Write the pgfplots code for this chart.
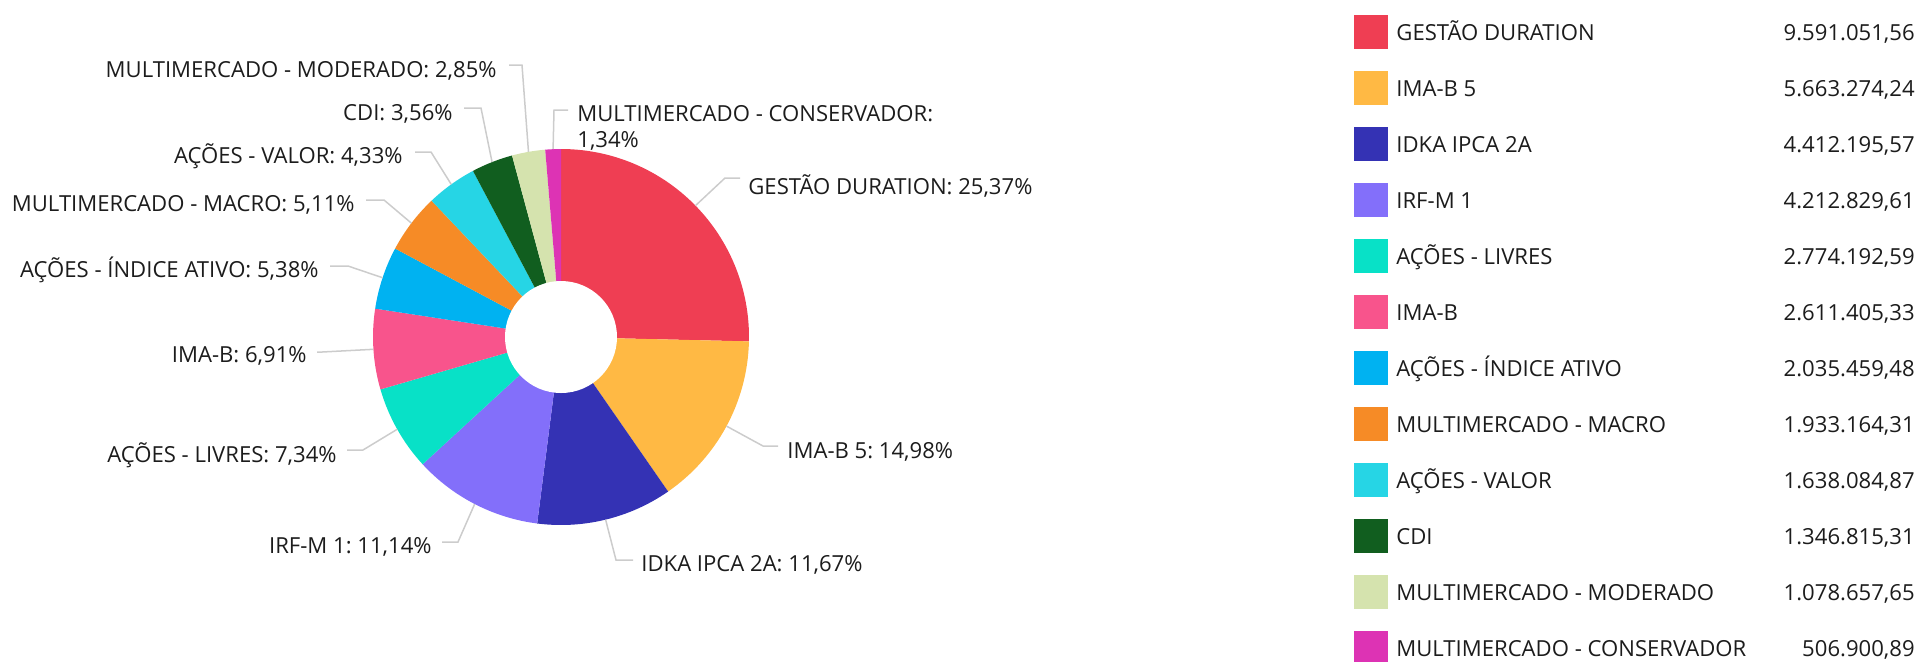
\documentclass[border=0pt]{standalone}
\usepackage{fontspec}
\setmainfont{Open Sans}
\usepackage{pgfplots}
\pgfplotsset{compat=1.18}
\usepackage{pgfplotstable}
\pgfkeys{/pgf/number format/assume math mode=true}

\definecolor{sc0}{HTML}{EF3E53}
\definecolor{sc1}{HTML}{FFB944}
\definecolor{sc2}{HTML}{3432B4}
\definecolor{sc3}{HTML}{836FFA}
\definecolor{sc4}{HTML}{08E1C7}
\definecolor{sc5}{HTML}{F8548C}
\definecolor{sc6}{HTML}{00B2F1}
\definecolor{sc7}{HTML}{F68B26}
\definecolor{sc8}{HTML}{26D5E5}
\definecolor{sc9}{HTML}{115E1F}
\definecolor{sc10}{HTML}{D5E3AE}
\definecolor{sc11}{HTML}{DD33B4}
\definecolor{txt}{HTML}{1C1C1C}
\definecolor{leadc}{HTML}{CCCCCC}

% value; label placement (pixel coords of the 1922x661 picture)
% lx: text edge, ty: text centre, ln: leader y, bx: leader break x, hx: leader end x
\pgfplotstableread[col sep=semicolon,row sep=\\]{
name;value;side;lx;ty;ln;bx;hx;wrap\\
GESTÃO DURATION;9591051.56;1;748;186;178;725;740;0\\
IMA-B 5;5663274.24;1;787;450;446;763;778;0\\
IDKA IPCA 2A;4412195.57;1;641;563;560;616;633;0\\
IRF-M 1;4212829.61;0;432;545;542;458;442;0\\
AÇÕES - LIVRES;2774192.59;0;337;454;450;363;347;0\\
IMA-B;2611405.33;0;307;354.5;352;322;317;0\\
AÇÕES - ÍNDICE ATIVO;2035459.48;0;319;269.5;266;348;330;0\\
MULTIMERCADO - MACRO;1933164.31;0;355;203.5;200;384;366;0\\
AÇÕES - VALOR;1638084.87;0;403;155.5;152;431;415;0\\
CDI;1346815.31;0;453;112;108;481;464;0\\
MULTIMERCADO - MODERADO;1078657.65;0;497;69;65;522;509;0\\
MULTIMERCADO - CONSERVADOR;506900.89;1;577;113;110;554;568;1\\
}\slices

\gdef\total{0}%
\pgfplotsforeachungrouped \i in {0,...,11}{%
  \pgfplotstablegetelem{\i}{value}\of\slices
  \xdef\total{\fpeval{\total+\pgfplotsretval}}%
}%
\gdef\cum{0}%
\pgfplotsforeachungrouped \i in {0,...,11}{%
  \pgfplotstablegetelem{\i}{value}\of\slices \let\myv\pgfplotsretval
  \expandafter\xdef\csname vl\i\endcsname{\myv}%
  \expandafter\xdef\csname aS\i\endcsname{\fpeval{round(90-360*\cum/\total,4)}}%
  \xdef\cum{\fpeval{\cum+\myv}}%
  \expandafter\xdef\csname aE\i\endcsname{\fpeval{round(90-360*\cum/\total,4)}}%
  \expandafter\xdef\csname aM\i\endcsname{\fpeval{round(90-360*(\cum-\myv/2)/\total,4)}}%
  \expandafter\xdef\csname pc\i\endcsname{\fpeval{round(100*\myv/\total,2)}}%
  \pgfplotstablegetelem{\i}{name}\of\slices
  \expandafter\global\expandafter\let\csname nm\i\endcsname\pgfplotsretval
  \pgfplotstablegetelem{\i}{side}\of\slices \expandafter\xdef\csname sd\i\endcsname{\pgfplotsretval}%
  \pgfplotstablegetelem{\i}{wrap}\of\slices \expandafter\xdef\csname wr\i\endcsname{\pgfplotsretval}%
  \pgfplotstablegetelem{\i}{bx}\of\slices \expandafter\xdef\csname bx\i\endcsname{\pgfplotsretval}%
  \pgfplotstablegetelem{\i}{hx}\of\slices \expandafter\xdef\csname hx\i\endcsname{\pgfplotsretval}%
  \pgfplotstablegetelem{\i}{ln}\of\slices \expandafter\xdef\csname ly\i\endcsname{\pgfplotsretval}%
  \pgfplotstablegetelem{\i}{lx}\of\slices \expandafter\xdef\csname tx\i\endcsname{\pgfplotsretval}%
  \pgfplotstablegetelem{\i}{ty}\of\slices \let\myty\pgfplotsretval
  \expandafter\xdef\csname ty\i\endcsname{\fpeval{\myty+8}}%
  \expandafter\xdef\csname tyy\i\endcsname{\fpeval{\myty+34.5}}%
  \expandafter\xdef\csname rt\i\endcsname{\fpeval{15+56*\i}}%
  \expandafter\xdef\csname rb\i\endcsname{\fpeval{49+56*\i}}%
  \expandafter\xdef\csname rl\i\endcsname{\fpeval{40+56*\i}}%
}%

\newcommand\lblfont{\fontsize{11.05}{13}\selectfont}
\newcommand\pctfmt[1]{\pgfmathprintnumber[fixed,fixed zerofill,precision=2,use comma]{#1}}
\newcommand\valfmt[1]{\pgfmathprintnumber[fixed,fixed zerofill,precision=2,use comma,1000 sep={.}]{#1}}

\begin{document}
\frenchspacing
\begin{tikzpicture}
\begin{axis}[name=ax, scale only axis, width=961pt, height=330.5pt,
  xmin=0, xmax=1922, ymin=0, ymax=661, y dir=reverse,
  enlargelimits=false, hide axis, clip=true]
\addplot[draw=none] coordinates {(0,0) (1922,661)};
% slices
\pgfplotsinvokeforeach{0,...,11}{
  \fill[sc#1] (axis cs:561,337) -- ++(\csname aS#1\endcsname:94pt)
    arc[start angle=\csname aS#1\endcsname, end angle=\csname aE#1\endcsname, radius=94pt] -- cycle;
}
\fill[white] (axis cs:561,337) circle[radius=28pt];
% leader lines and labels
\pgfplotsinvokeforeach{0,...,11}{
  \draw[leadc, line width=0.75pt] (axis cs:561,337) ++(\csname aM#1\endcsname:94pt)
    -- (axis cs:\csname bx#1\endcsname,\csname ly#1\endcsname)
    -- (axis cs:\csname hx#1\endcsname,\csname ly#1\endcsname);
  \ifnum\csname sd#1\endcsname=1
    \ifnum\csname wr#1\endcsname=1
      \node[anchor=base west, inner sep=0pt, font=\lblfont, text=txt] at (axis cs:\csname tx#1\endcsname,\csname ty#1\endcsname) {\csname nm#1\endcsname:};
      \node[anchor=base west, inner sep=0pt, font=\lblfont, text=txt] at (axis cs:\csname tx#1\endcsname,\csname tyy#1\endcsname) {\pctfmt{\csname pc#1\endcsname}\%};
    \else
      \node[anchor=base west, inner sep=0pt, font=\lblfont, text=txt] at (axis cs:\csname tx#1\endcsname,\csname ty#1\endcsname) {\csname nm#1\endcsname: \pctfmt{\csname pc#1\endcsname}\%};
    \fi
  \else
    \node[anchor=base east, inner sep=0pt, font=\lblfont, text=txt] at (axis cs:\csname tx#1\endcsname,\csname ty#1\endcsname) {\csname nm#1\endcsname: \pctfmt{\csname pc#1\endcsname}\%};
  \fi
}
% legend
\pgfplotsinvokeforeach{0,...,11}{
  \fill[sc#1] (axis cs:1354,\csname rt#1\endcsname) rectangle (axis cs:1388,\csname rb#1\endcsname);
  \node[anchor=base west, inner sep=0pt, font=\lblfont, text=txt] at (axis cs:1396,\csname rl#1\endcsname) {\csname nm#1\endcsname};
  \node[anchor=base east, inner sep=0pt, font=\lblfont, text=txt] at (axis cs:1915,\csname rl#1\endcsname) {\valfmt{\csname vl#1\endcsname}};
}
\end{axis}
\pgfresetboundingbox
\useasboundingbox (ax.south west) rectangle (ax.north east);
\end{tikzpicture}
\end{document}
